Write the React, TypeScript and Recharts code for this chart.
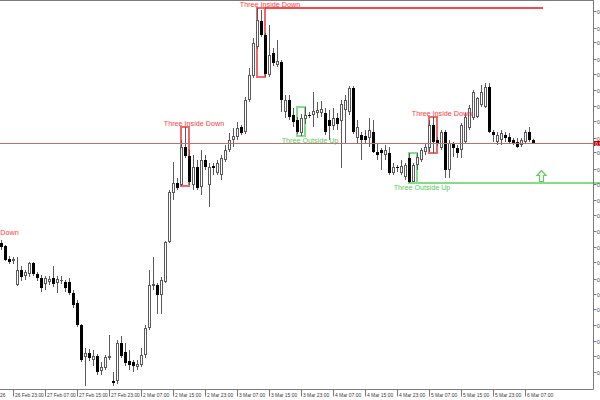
import React from 'react';
import { ComposedChart, Bar, XAxis, YAxis, ReferenceLine, ReferenceArea, ReferenceDot } from 'recharts';

// Hourly candles (index 0..133), prices
const opens = [
  0.9757, 0.9754, 0.9741, 0.9739, 0.9715, 0.9730, 0.9724, 0.9726, 0.9737, 0.9726,
  0.9722, 0.9716, 0.9718, 0.9722, 0.9717, 0.9719, 0.9718, 0.9718, 0.9707, 0.9697,
  0.9675, 0.9643, 0.9647, 0.9640, 0.9644, 0.9629, 0.9632, 0.9642, 0.9619, 0.9619,
  0.9657, 0.9648, 0.9639, 0.9638, 0.9633, 0.9635, 0.9645, 0.9672, 0.9714, 0.9715,
  0.9705, 0.9718, 0.9758, 0.9807, 0.9817, 0.9815, 0.9853, 0.9844, 0.9815, 0.9833,
  0.9813, 0.9840, 0.9815, 0.9834, 0.9827, 0.9825, 0.9840, 0.9850, 0.9860, 0.9863,
  0.9873, 0.9868, 0.9900, 0.9924, 0.9953, 0.9979, 0.9965, 0.9925, 0.9947, 0.9935,
  0.9938, 0.9888, 0.9900, 0.9885, 0.9880, 0.9867, 0.9881, 0.9885, 0.9885, 0.9887,
  0.9887, 0.9887, 0.9880, 0.9874, 0.9882, 0.9879, 0.9890, 0.9888, 0.9912, 0.9862,
  0.9865, 0.9864, 0.9862, 0.9868, 0.9848, 0.9850, 0.9845, 0.9847, 0.9827, 0.9833,
  0.9827, 0.9823, 0.9842, 0.9818, 0.9835, 0.9840, 0.9848, 0.9852, 0.9875, 0.9860,
  0.9852, 0.9868, 0.9830, 0.9857, 0.9852, 0.9850, 0.9858, 0.9872, 0.9882, 0.9883,
  0.9895, 0.9893, 0.9913, 0.9868, 0.9858, 0.9860, 0.9865, 0.9863, 0.9860, 0.9858,
  0.9855, 0.9858, 0.9868, 0.9860,
];
const highs = [
  0.9760, 0.9755, 0.9744, 0.9743, 0.9743, 0.9734, 0.9730, 0.9738, 0.9738, 0.9728,
  0.9725, 0.9724, 0.9724, 0.9734, 0.9724, 0.9724, 0.9720, 0.9722, 0.9710, 0.9700,
  0.9676, 0.9652, 0.9651, 0.9650, 0.9646, 0.9638, 0.9645, 0.9665, 0.9628, 0.9660,
  0.9664, 0.9657, 0.9650, 0.9640, 0.9640, 0.9652, 0.9675, 0.9730, 0.9743, 0.9717,
  0.9723, 0.9759, 0.9810, 0.9838, 0.9822, 0.9860, 0.9873, 0.9850, 0.9845, 0.9840,
  0.9850, 0.9845, 0.9837, 0.9837, 0.9840, 0.9845, 0.9855, 0.9867, 0.9872, 0.9878,
  0.9875, 0.9903, 0.9932, 0.9962, 0.9992, 0.9990, 0.9967, 0.9975, 0.9952, 0.9960,
  0.9940, 0.9905, 0.9905, 0.9892, 0.9883, 0.9886, 0.9893, 0.9888, 0.9908, 0.9898,
  0.9899, 0.9892, 0.9890, 0.9892, 0.9887, 0.9900, 0.9905, 0.9914, 0.9914, 0.9880,
  0.9868, 0.9870, 0.9882, 0.9880, 0.9857, 0.9852, 0.9855, 0.9853, 0.9837, 0.9835,
  0.9840, 0.9837, 0.9847, 0.9837, 0.9847, 0.9852, 0.9857, 0.9880, 0.9883, 0.9863,
  0.9870, 0.9870, 0.9860, 0.9858, 0.9855, 0.9877, 0.9887, 0.9895, 0.9910, 0.9903,
  0.9915, 0.9917, 0.9917, 0.9870, 0.9868, 0.9870, 0.9868, 0.9867, 0.9862, 0.9862,
  0.9862, 0.9870, 0.9873, 0.9861,
];
const lows = [
  0.9750, 0.9739, 0.9736, 0.9736, 0.9714, 0.9719, 0.9720, 0.9723, 0.9724, 0.9719,
  0.9708, 0.9710, 0.9715, 0.9713, 0.9707, 0.9716, 0.9708, 0.9705, 0.9692, 0.9673,
  0.9638, 0.9614, 0.9639, 0.9634, 0.9625, 0.9625, 0.9630, 0.9640, 0.9614, 0.9616,
  0.9642, 0.9634, 0.9630, 0.9628, 0.9630, 0.9633, 0.9642, 0.9670, 0.9710, 0.9686,
  0.9686, 0.9717, 0.9757, 0.9800, 0.9810, 0.9814, 0.9842, 0.9815, 0.9810, 0.9810,
  0.9805, 0.9830, 0.9793, 0.9825, 0.9825, 0.9820, 0.9838, 0.9848, 0.9853, 0.9860,
  0.9865, 0.9866, 0.9898, 0.9922, 0.9951, 0.9963, 0.9923, 0.9923, 0.9934, 0.9933,
  0.9888, 0.9882, 0.9880, 0.9873, 0.9866, 0.9864, 0.9876, 0.9882, 0.9873, 0.9882,
  0.9883, 0.9865, 0.9860, 0.9870, 0.9870, 0.9832, 0.9857, 0.9885, 0.9866, 0.9857,
  0.9840, 0.9857, 0.9853, 0.9847, 0.9840, 0.9830, 0.9840, 0.9825, 0.9825, 0.9828,
  0.9825, 0.9820, 0.9817, 0.9817, 0.9830, 0.9838, 0.9845, 0.9848, 0.9847, 0.9854,
  0.9850, 0.9822, 0.9822, 0.9843, 0.9842, 0.9842, 0.9857, 0.9870, 0.9880, 0.9882,
  0.9893, 0.9892, 0.9867, 0.9858, 0.9855, 0.9855, 0.9858, 0.9857, 0.9855, 0.9852,
  0.9853, 0.9857, 0.9858, 0.9857,
];
const closes = [
  0.9753, 0.9740, 0.9738, 0.9741, 0.9730, 0.9723, 0.9728, 0.9737, 0.9726, 0.9722,
  0.9712, 0.9722, 0.9721, 0.9716, 0.9721, 0.9720, 0.9712, 0.9707, 0.9695, 0.9675,
  0.9640, 0.9647, 0.9642, 0.9644, 0.9628, 0.9633, 0.9643, 0.9644, 0.9617, 0.9657,
  0.9644, 0.9637, 0.9635, 0.9634, 0.9636, 0.9645, 0.9672, 0.9715, 0.9716, 0.9705,
  0.9720, 0.9758, 0.9808, 0.9817, 0.9812, 0.9853, 0.9844, 0.9818, 0.9833, 0.9812,
  0.9840, 0.9833, 0.9833, 0.9832, 0.9837, 0.9842, 0.9850, 0.9860, 0.9864, 0.9872,
  0.9867, 0.9900, 0.9925, 0.9957, 0.9980, 0.9965, 0.9926, 0.9945, 0.9937, 0.9939,
  0.9900, 0.9900, 0.9883, 0.9878, 0.9868, 0.9882, 0.9885, 0.9885, 0.9889, 0.9890,
  0.9891, 0.9868, 0.9874, 0.9882, 0.9876, 0.9896, 0.9900, 0.9912, 0.9868, 0.9873,
  0.9860, 0.9860, 0.9870, 0.9848, 0.9845, 0.9847, 0.9850, 0.9827, 0.9833, 0.9832,
  0.9834, 0.9835, 0.9818, 0.9835, 0.9843, 0.9850, 0.9853, 0.9875, 0.9858, 0.9857,
  0.9868, 0.9830, 0.9857, 0.9852, 0.9847, 0.9875, 0.9883, 0.9892, 0.9908, 0.9902,
  0.9908, 0.9913, 0.9868, 0.9865, 0.9865, 0.9867, 0.9862, 0.9858, 0.9857, 0.9853,
  0.9860, 0.9868, 0.9860, 0.9857,
];

// Time axis labels
const timeTickIdx = [3, 11, 19, 27, 35, 43, 51, 59, 67, 75, 83, 91, 99, 107, 115, 123, 131];
const timeTickText = [
  '26 Feb 23:00', '27 Feb 07:00', '27 Feb 15:00', '27 Feb 23:00', '2 Mar 07:00', '2 Mar 15:00',
  '2 Mar 23:00', '3 Mar 07:00', '3 Mar 15:00', '3 Mar 23:00', '4 Mar 07:00', '4 Mar 15:00',
  '4 Mar 23:00', '5 Mar 07:00', '5 Mar 15:00', '5 Mar 23:00', '6 Mar 07:00',
];
const firstDateIdx = -6.25;
const firstDateText = '26 Feb 2026';

// Price axis
const priceTicks = [
  0.9988, 0.9972, 0.9957, 0.9941, 0.9925, 0.9910, 0.9894, 0.9878, 0.9862, 0.9847, 0.9831, 0.9815,
  0.9800, 0.9784, 0.9768, 0.9753, 0.9737, 0.9721, 0.9705, 0.9690, 0.9674, 0.9658, 0.9643, 0.9627,
];
const priceDomain = [0.96105, 1.0];
const bidPrice = 0.98565;

// Candle patterns
const patternNames = ['Three Inside Down', 'Three Inside Down', 'Three Outside Up', 'Three Outside Up', 'Three Inside Down'];
const patternFirst = [45, 64, 74, 102, 107];
const patternLast = [47, 66, 76, 104, 109];
const patternBull = [false, false, true, true, false];

const offLabelText = 'Three Inside Down';
const offLabelIdx = -3.125;
const offLabelPrice = 0.9764;

const resistanceFrom = 66;
const resistanceTo = 135.5;
const resistancePrice = 0.9992;
const supportFrom = 103;
const supportTo = 150;
const supportPrice = 0.9817;
const arrowIdx = 135;
const arrowPrice = 0.9824;

const data = opens.map((o, i) => ({
  idx: i,
  open: o,
  high: highs[i],
  low: lows[i],
  close: closes[i],
  range: [lows[i], highs[i]],
}));

const patterns = patternNames.map((name, k) => {
  const hs = highs.slice(patternFirst[k], patternLast[k] + 1);
  const ls = lows.slice(patternFirst[k], patternLast[k] + 1);
  return {
    name,
    first: patternFirst[k],
    last: patternLast[k],
    bull: patternBull[k],
    top: Math.max(...hs),
    bottom: Math.min(...ls),
  };
});

const FONT = '"Liberation Sans", Arial, sans-serif';
const RED_BOX = '#f06868';
const RED_TEXT = '#ff3c3c';
const GREEN_BOX = '#86dc86';
const GREEN_TEXT = '#55cc55';
const ARROW = '#5ccf5c';
const AXIS = '#7a7a7a';
const WICK = '#5a5a5a';

function Candle(props: any) {
  const { x, y, width, height, payload } = props;
  if (x == null || y == null || payload == null) return null;
  const top = Math.min(y, y + height);
  const bottom = Math.max(y, y + height);
  const span = payload.high - payload.low;
  const px = (v: number) => (span > 0 ? top + ((payload.high - v) / span) * (bottom - top) : top);
  const col = Math.floor(x + width / 2 + 0.51);
  const bull = payload.close > payload.open;
  const bt = Math.round(px(Math.max(payload.open, payload.close)));
  const bb = Math.round(px(Math.min(payload.open, payload.close)));
  const wt = Math.round(px(payload.high));
  const wb = Math.round(px(payload.low));
  let body: any;
  if (bb - bt <= 1) {
    body = <rect x={col - 1} y={bt} width={3} height={1} fill={bull ? WICK : '#000'} />;
  } else if (bull) {
    body = (
      <rect x={col - 0.5} y={bt + 0.5} width={2} height={bb - bt - 1} fill="#fff" stroke={WICK} strokeWidth={1} />
    );
  } else {
    body = <rect x={col - 1} y={bt} width={3} height={bb - bt} fill="#000" />;
  }
  return (
    <g>
      <line x1={col + 0.5} x2={col + 0.5} y1={wt} y2={wb} stroke={WICK} strokeWidth={1} />
      {body}
    </g>
  );
}

function TimeTick(props: any) {
  const { x, y, payload } = props;
  const k = timeTickIdx.indexOf(payload.value);
  const col = Math.floor(x + 0.01);
  return (
    <g>
      <line x1={col + 0.5} x2={col + 0.5} y1={y} y2={y + 7} stroke={AXIS} strokeWidth={1} />
      <text x={col + 2} y={y + 7} fontSize={4.9} fill="#3a3a3a" fontFamily={FONT}>
        {k >= 0 ? timeTickText[k] : ''}
      </text>
    </g>
  );
}

function PriceTick(props: any) {
  const { x, y, payload } = props;
  const ry = Math.round(y - 0.5) + 0.5;
  return (
    <g>
      <line x1={x} x2={x + 3} y1={ry} y2={ry} stroke={AXIS} strokeWidth={1} />
      <text x={x + 3.5} y={ry} fontSize={5} fill="#3a3a3a" fontFamily={FONT} dominantBaseline="central">
        {Number(payload.value).toFixed(4)}
      </text>
    </g>
  );
}

function labelShape(text: string, color: string, below: boolean) {
  return (p: any) => (
    <text
      x={p.cx}
      y={below ? p.cy + 6.5 : p.cy - 1}
      textAnchor="middle"
      fontSize={7.2}
      fill={color}
      fontFamily={FONT}
    >
      {text}
    </text>
  );
}

function FirstDate(p: any) {
  return (
    <text x={p.cx + 2} y={p.cy + 7} fontSize={4.9} fill="#3a3a3a" fontFamily={FONT}>
      {firstDateText}
    </text>
  );
}

function BidBox(p: any) {
  return (
    <g>
      <rect x={p.cx + 0.5} y={p.cy - 2.5} width={7} height={5} fill="#c40000" />
      <text x={p.cx + 1.5} y={p.cy} fontSize={5} fill="#fff" fontFamily={FONT} dominantBaseline="central">
        {bidPrice.toFixed(4)}
      </text>
    </g>
  );
}

function UpArrow(p: any) {
  const c = Math.round(p.cx) + 0.5;
  const t = Math.round(p.cy) - 6 + 0.5;
  const d = `M ${c} ${t} L ${c + 4.5} ${t + 5} L ${c + 2} ${t + 5} L ${c + 2} ${t + 11} L ${c - 2} ${t + 11} L ${c - 2} ${t + 5} L ${c - 4.5} ${t + 5} Z`;
  return <path d={d} fill="#fff" stroke={ARROW} strokeWidth={1.2} />;
}

export default function App() {
  return (
    <div style={{ position: 'absolute', left: 0, top: 0, width: 600, height: 400, background: '#fff', overflow: 'hidden' }}>
      <ComposedChart width={600} height={400} data={data} margin={{ top: 0, right: 0, bottom: 0, left: 0 }}>
        <XAxis
          dataKey="idx"
          type="number"
          domain={[-0.25, 148.125]}
          allowDataOverflow
          ticks={timeTickIdx}
          interval={0}
          height={10.5}
          tickSize={0}
          tickMargin={0}
          tickLine={false}
          tick={<TimeTick />}
          axisLine={{ stroke: AXIS }}
        />
        <YAxis
          orientation="right"
          width={6.5}
          domain={priceDomain}
          allowDataOverflow
          ticks={priceTicks}
          interval={0}
          tickSize={0}
          tickMargin={0}
          tickLine={false}
          tick={<PriceTick />}
          axisLine={{ stroke: AXIS }}
        />
        <ReferenceLine y={1.0} stroke={AXIS} strokeWidth={2} />
        <ReferenceLine y={bidPrice} stroke="#c07070" strokeWidth={1} />
        <Bar dataKey="range" barSize={3} shape={Candle} isAnimationActive={false} />
        {patterns.map((pt, k) => (
          <ReferenceArea
            key={'a' + k}
            x1={pt.first}
            x2={pt.last}
            y1={pt.bottom}
            y2={pt.top}
            fill="none"
            fillOpacity={0}
            stroke={pt.bull ? GREEN_BOX : RED_BOX}
            strokeWidth={2}
            ifOverflow="visible"
          />
        ))}
        <ReferenceLine
          segment={[{ x: resistanceFrom, y: resistancePrice }, { x: resistanceTo, y: resistancePrice }]}
          stroke="#ee1111"
          strokeWidth={1.5}
          ifOverflow="visible"
        />
        <ReferenceLine
          segment={[{ x: supportFrom, y: supportPrice }, { x: supportTo, y: supportPrice }]}
          stroke={GREEN_BOX}
          strokeWidth={2}
          ifOverflow="visible"
        />
        {patterns.map((pt, k) => (
          <ReferenceDot
            key={'l' + k}
            x={(pt.first + pt.last) / 2 + 2.25}
            y={pt.bull ? pt.bottom : pt.top}
            r={0}
            ifOverflow="visible"
            shape={labelShape(pt.name, pt.bull ? GREEN_TEXT : RED_TEXT, pt.bull)}
          />
        ))}
        <ReferenceDot
          x={offLabelIdx}
          y={offLabelPrice}
          r={0}
          ifOverflow="visible"
          shape={labelShape(offLabelText, RED_TEXT, false)}
        />
        <ReferenceDot x={arrowIdx} y={arrowPrice} r={0} ifOverflow="visible" shape={UpArrow} />
        <ReferenceDot x={148.125} y={bidPrice} r={0} ifOverflow="visible" shape={BidBox} />
        <ReferenceDot x={firstDateIdx} y={priceDomain[0]} r={0} ifOverflow="visible" shape={FirstDate} />
      </ComposedChart>
    </div>
  );
}
